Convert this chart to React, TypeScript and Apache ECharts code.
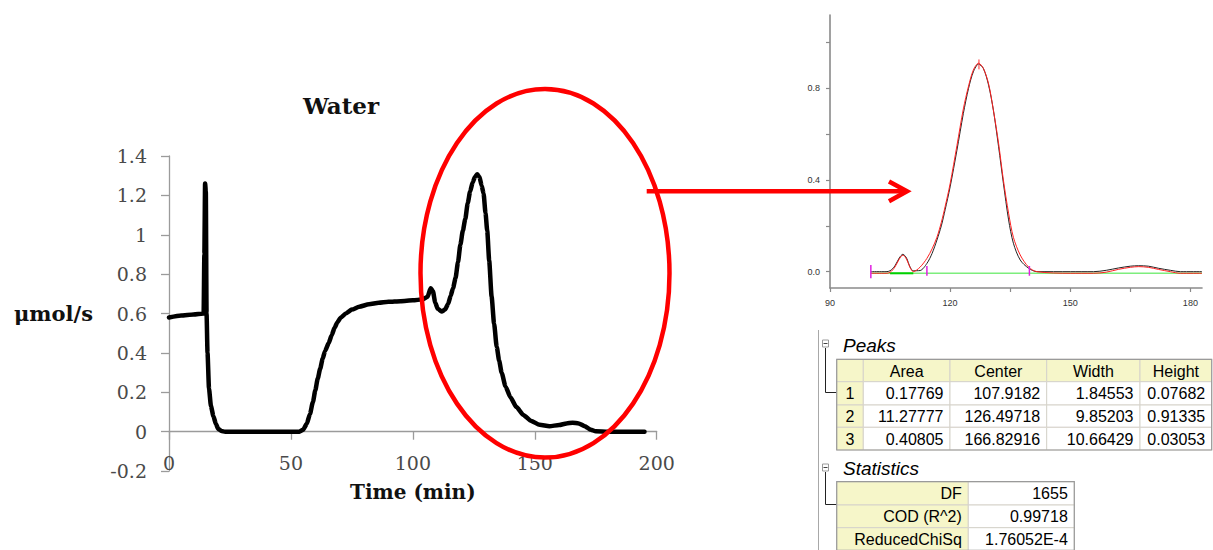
import React, { useEffect, useRef } from "react";
import * as echarts from "echarts";

// ---------- Left chart: Water ----------
const waterTime = [0,5,10,14.2,14.5,14.8,15.1,15.4,15.8,16.4,17.2,18.2,19.2,20.2,21.5,23,35,50,53.5,55,56.5,57.8,59,60,61,62,63,64,65.5,66.7,68,69,70.5,72.5,75,78,82,86,90,95,100,104,106,107.3,108.2,109.2,110.2,111.8,113.2,114.5,115.5,116.5,117.5,118.5,119.5,120.5,121.5,122.5,123.5,124.5,125.5,126.4,127.3,128.2,129,129.8,130.5,131.3,132.3,133.3,134.4,135.4,136.4,138,140,142.5,145.3,148.5,152,156,160,163,165.5,168,170.5,173,175,180,188,195];
const waterRate = [0.58,0.59,0.595,0.60,0.9,1.26,1.22,0.6,0.4,0.22,0.13,0.08,0.04,0.015,0.003,0,0,0,0,0.01,0.04,0.09,0.15,0.21,0.27,0.32,0.37,0.41,0.45,0.49,0.53,0.555,0.58,0.60,0.62,0.635,0.647,0.655,0.66,0.663,0.667,0.672,0.685,0.728,0.715,0.655,0.625,0.61,0.62,0.65,0.69,0.73,0.78,0.86,0.95,1.02,1.08,1.16,1.22,1.265,1.295,1.307,1.295,1.25,1.21,1.11,1.02,0.87,0.686,0.55,0.43,0.36,0.30,0.23,0.175,0.125,0.085,0.055,0.035,0.028,0.034,0.042,0.046,0.042,0.028,0.01,0.002,0,0,0];
const waterXTicks = [0, 50, 100, 150, 200];

// ---------- Right chart: peak fit ----------
const fitTime = [100.2,104,105,106.2,107.3,108.2,109.1,110,110.8,112.5,114.2,115.5,116.7,117.8,118.75,120,121.7,123.3,124.6,125.8,127.1,128.3,129.6,130.8,132.1,133.3,134.6,135.8,137.5,139.6,141.7,150,155.8,159,162,165,167.1,169.5,172,175,177.5,182.9];
const dataSignal = [0,0,0.004,0.025,0.06,0.076,0.06,0.02,0.004,0.005,0.036,0.08,0.138,0.2,0.27,0.37,0.53,0.69,0.80,0.872,0.906,0.887,0.814,0.705,0.545,0.386,0.226,0.124,0.051,0.015,0,0,0,0.006,0.016,0.024,0.026,0.024,0.015,0.006,0,0];
const fitCurve = [-0.007,-0.007,-0.003,0.02,0.055,0.072,0.055,0.018,0.0,0.02,0.058,0.1,0.15,0.215,0.284,0.384,0.55,0.71,0.81,0.88,0.91,0.887,0.82,0.705,0.56,0.40,0.255,0.15,0.073,0.02,0.0,-0.007,-0.007,-0.002,0.01,0.019,0.022,0.019,0.01,0.0,-0.007,-0.007];
const baselineLevel = -0.007;
const baselineRange = [100.2, 182.9];
const baselineDark = [105, 110.8];
const roiMarkers = [100.2, 114.2, 139.8];
const peakMarkX = 127.2;
const fitXTicks = [90, 105, 120, 135, 150, 165, 180];
const fitXLabels = [90, 120, 150, 180];
const fitYTicks = [0, 0.2, 0.4, 0.6, 0.8, 1.0];
const fitYLabels = [0, 0.4, 0.8];

// ---------- Tables ----------
const peakHeaders = ["Area", "Center", "Width", "Height"];
const peakIds = ["1", "2", "3"];
const peakArea = ["0.17769", "11.27777", "0.40805"];
const peakCenter = ["107.9182", "126.49718", "166.82916"];
const peakWidth = ["1.84553", "9.85203", "10.66429"];
const peakHeight = ["0.07682", "0.91335", "0.03053"];
const statLabels = ["DF", "COD (R^2)", "ReducedChiSq"];
const statValues = ["1655", "0.99718", "1.76052E-4"];

const SERIF = '"DejaVu Serif", "Liberation Serif", serif';
const SANS = '"Liberation Sans", Arial, sans-serif';
const YELLOW = "#f6f6c9";
const GRIDC = "#d6d3ca";
const BORDER = "#9a9a9a";

function buildTables(): any[] {
  const els: any[] = [];
  const txt = (text: string, x: number, y: number, align: string, extra: any = {}) => ({
    type: "text",
    x,
    y,
    z: 110,
    style: { text, fill: "#000", fontSize: 16, fontFamily: SANS, textAlign: align, textVerticalAlign: "middle", ...extra },
  });
  els.push({ type: "line", z: 105, shape: { x1: 818.5, y1: 330, x2: 818.5, y2: 550 }, style: { stroke: "#a8a8a8", lineWidth: 1 } });

  const icon = (cy: number) => [
    { type: "rect", z: 106, shape: { x: 822.5, y: cy - 3.5, width: 6, height: 7 }, style: { fill: "#fff", stroke: "#9a9a9a", lineWidth: 1 } },
    { type: "line", z: 107, shape: { x1: 823.5, y1: cy, x2: 827.5, y2: cy }, style: { stroke: "#444", lineWidth: 1 } },
  ];

  const pCols = [836.7, 863.3, 950, 1046.7, 1140, 1211.7];
  const pRows = [359.3, 381.7, 405, 427.3, 450];
  els.push(...icon(343.5));
  els.push(txt("Peaks", 843, 345, "left", { fontSize: 19, fontStyle: "italic", fontFamily: SANS }));
  els.push({ type: "polyline", z: 106, shape: { points: [[825.5, 348], [825.5, 392.5], [836.7, 392.5]] }, style: { stroke: "#222", lineWidth: 1, fill: "none" } });
  const pColsData = [peakArea, peakCenter, peakWidth, peakHeight];
  for (let r = 0; r < 4; r++) {
    for (let c = 0; c < 5; c++) {
      const yellow = r === 0 || c === 0;
      els.push({
        type: "rect",
        z: 105,
        shape: { x: pCols[c], y: pRows[r], width: pCols[c + 1] - pCols[c], height: pRows[r + 1] - pRows[r] },
        style: { fill: yellow ? YELLOW : "#fff", stroke: GRIDC, lineWidth: 1 },
      });
      const cy = (pRows[r] + pRows[r + 1]) / 2 + 0.5;
      if (r === 0 && c > 0) els.push(txt(peakHeaders[c - 1], (pCols[c] + pCols[c + 1]) / 2, cy, "center"));
      if (r > 0 && c === 0) els.push(txt(peakIds[r - 1], (pCols[0] + pCols[1]) / 2, cy, "center"));
      if (r > 0 && c > 0) els.push(txt(pColsData[c - 1][r - 1], pCols[c + 1] - 6.5, cy, "right"));
    }
  }
  els.push({ type: "rect", z: 108, shape: { x: pCols[0], y: pRows[0], width: pCols[5] - pCols[0], height: pRows[4] - pRows[0] }, style: { fill: "none", stroke: BORDER, lineWidth: 1.2 } });

  const sCols = [836.7, 968.3, 1074.3];
  const sRows = [481.7, 505, 527.7, 550.4];
  els.push(...icon(467.5));
  els.push(txt("Statistics", 843, 468, "left", { fontSize: 19, fontStyle: "italic", fontFamily: SANS }));
  els.push({ type: "polyline", z: 106, shape: { points: [[825.5, 472], [825.5, 504.5], [836.7, 504.5]] }, style: { stroke: "#222", lineWidth: 1, fill: "none" } });
  for (let r = 0; r < 3; r++) {
    for (let c = 0; c < 2; c++) {
      els.push({
        type: "rect",
        z: 105,
        shape: { x: sCols[c], y: sRows[r], width: sCols[c + 1] - sCols[c], height: sRows[r + 1] - sRows[r] },
        style: { fill: c === 0 ? YELLOW : "#fff", stroke: GRIDC, lineWidth: 1 },
      });
      const cy = (sRows[r] + sRows[r + 1]) / 2 + 0.5;
      els.push(txt(c === 0 ? statLabels[r] : statValues[r], sCols[c + 1] - 6.5, cy, "right"));
    }
  }
  els.push({ type: "rect", z: 108, shape: { x: sCols[0], y: sRows[0], width: sCols[2] - sCols[0], height: sRows[3] - sRows[0] }, style: { fill: "none", stroke: BORDER, lineWidth: 1.2 } });
  return els;
}

export default function App() {
  const ref = useRef<HTMLDivElement>(null);
  useEffect(() => {
    if (!ref.current) return;
    const chart = echarts.init(ref.current, null, { renderer: "svg" });
    const waterData = waterTime.map((t, i) => [t, waterRate[i]]);
    const dataPts = fitTime.map((t, i) => [t, dataSignal[i]]);
    const fitPts = fitTime.map((t, i) => [t, fitCurve[i]]);
    const markerPts: any[] = [];
    roiMarkers.forEach((x, i) => {
      if (i > 0) markerPts.push([x - 1, "-"]);
      markerPts.push([x, i === 0 ? -0.029 : -0.018]);
      markerPts.push([x, i === 0 ? 0.029 : 0.025]);
    });
    const axisGray = "#9b9b9b";
    const rightGray = "#8a8a8a";
    chart.setOption({
      animation: false,
      backgroundColor: "#fff",
      grid: [
        { left: 169, top: 156, width: 487.7, height: 315.1, containLabel: false },
        { left: 830, top: 15, width: 372, height: 273, containLabel: false },
      ],
      xAxis: [
        {
          type: "value",
          gridIndex: 0,
          min: 0,
          max: 200,
          interval: 50,
          axisLine: { show: true, onZero: true, lineStyle: { color: axisGray, width: 1.3 } },
          axisTick: { show: true, length: 8, lineStyle: { color: axisGray, width: 1.3 }, customValues: waterXTicks },
          axisLabel: { margin: -18, fontSize: 19, fontFamily: SERIF, color: "#4a4a4a", customValues: waterXTicks },
          splitLine: { show: false },
          name: "Time (min)",
          nameLocation: "middle",
          nameGap: 11,
          nameTextStyle: { fontSize: 20, fontWeight: "bold", fontFamily: SERIF, color: "#111" },
        },
        {
          type: "value",
          gridIndex: 1,
          min: 90,
          max: 182.9,
          axisLine: { show: true, onZero: false, lineStyle: { color: rightGray, width: 1.6 } },
          axisTick: { show: true, length: 4, lineStyle: { color: rightGray, width: 1.2 }, customValues: fitXTicks },
          axisLabel: { margin: 10, fontSize: 9, fontFamily: SANS, color: "#333", customValues: fitXLabels },
          splitLine: { show: false },
        },
      ],
      yAxis: [
        {
          type: "value",
          gridIndex: 0,
          min: -0.2,
          max: 1.4,
          interval: 0.2,
          axisLine: { show: true, onZero: false, lineStyle: { color: axisGray, width: 1.3 } },
          axisTick: { show: true, length: 8, lineStyle: { color: axisGray, width: 1.3 } },
          axisLabel: {
            margin: 22,
            fontSize: 19,
            fontFamily: SERIF,
            color: "#4a4a4a",
            formatter: (v: number) => String(Math.round(v * 10) / 10),
          },
          splitLine: { show: false },
          name: "μmol/s",
          nameLocation: "middle",
          nameRotate: 0,
          nameGap: 76,
          nameTextStyle: { fontSize: 21, fontWeight: "bold", fontFamily: SERIF, color: "#111", align: "right", verticalAlign: "middle" },
        },
        {
          type: "value",
          gridIndex: 1,
          min: -0.0712,
          max: 1.12,
          axisLine: { show: true, onZero: false, lineStyle: { color: rightGray, width: 1.6 } },
          axisTick: { show: true, length: 4, lineStyle: { color: rightGray, width: 1.2 }, customValues: fitYTicks },
          axisLabel: { margin: 10, fontSize: 9, fontFamily: SANS, color: "#333", customValues: fitYLabels, formatter: (v: number) => v.toFixed(1) },
          splitLine: { show: false },
        },
      ],
      series: [
        {
          type: "line",
          name: "Water",
          xAxisIndex: 0,
          yAxisIndex: 0,
          data: waterData,
          showSymbol: false,
          smooth: 0.2,
          smoothMonotone: "x",
          lineStyle: { color: "#000", width: 4.5, cap: "round", join: "round" },
          z: 3,
        },
        {
          type: "line",
          name: "Baseline",
          xAxisIndex: 1,
          yAxisIndex: 1,
          data: [[baselineRange[0], baselineLevel], [baselineRange[1], baselineLevel]],
          showSymbol: false,
          lineStyle: { color: "#7dee7d", width: 1.5 },
          z: 2,
        },
        {
          type: "line",
          name: "Baseline anchor",
          xAxisIndex: 1,
          yAxisIndex: 1,
          data: [[baselineDark[0], baselineLevel], [baselineDark[1], baselineLevel]],
          showSymbol: false,
          lineStyle: { color: "#00d000", width: 2 },
          z: 2,
        },
        {
          type: "line",
          name: "Data",
          xAxisIndex: 1,
          yAxisIndex: 1,
          data: dataPts,
          showSymbol: false,
          smooth: 0.3,
          lineStyle: { color: "#222", width: 1 },
          z: 3,
        },
        {
          type: "line",
          name: "Fit",
          xAxisIndex: 1,
          yAxisIndex: 1,
          data: fitPts,
          showSymbol: false,
          smooth: 0.3,
          lineStyle: { color: "#ff2020", width: 1 },
          z: 4,
        },
        {
          type: "line",
          name: "ROI",
          xAxisIndex: 1,
          yAxisIndex: 1,
          data: markerPts,
          showSymbol: false,
          connectNulls: false,
          lineStyle: { color: "#e020e0", width: 1.5 },
          z: 5,
        },
        {
          type: "line",
          name: "Peak marker",
          xAxisIndex: 1,
          yAxisIndex: 1,
          data: [[peakMarkX, 0.883], [peakMarkX, 0.926]],
          showSymbol: false,
          lineStyle: { color: "#ff3030", width: 1 },
          z: 5,
        },
      ],
      graphic: [
        {
          type: "text",
          x: 341,
          y: 105,
          z: 100,
          style: { text: "Water", fontSize: 23, fontWeight: "bold", fontFamily: SERIF, fill: "#111", textAlign: "center", textVerticalAlign: "middle" },
        },
        {
          type: "ellipse",
          z: 100,
          shape: { cx: 545, cy: 273.3, rx: 124.5, ry: 184.3 },
          style: { fill: "none", stroke: "#ff0000", lineWidth: 4.5 },
        },
        {
          type: "line",
          z: 100,
          shape: { x1: 646.7, y1: 191.3, x2: 905, y2: 191.3 },
          style: { stroke: "#ff0000", lineWidth: 4.5 },
        },
        {
          type: "polyline",
          z: 100,
          shape: { points: [[889, 181.5], [907, 191.3], [889, 201.2]] },
          style: { stroke: "#ff0000", lineWidth: 4.5, fill: "none" },
        },
        ...buildTables(),
      ],
    });
    return () => chart.dispose();
  }, []);
  return (
    <div
      ref={ref}
      style={{ position: "absolute", left: 0, top: 0, width: 1213, height: 550, background: "#fff" }}
    />
  );
}
